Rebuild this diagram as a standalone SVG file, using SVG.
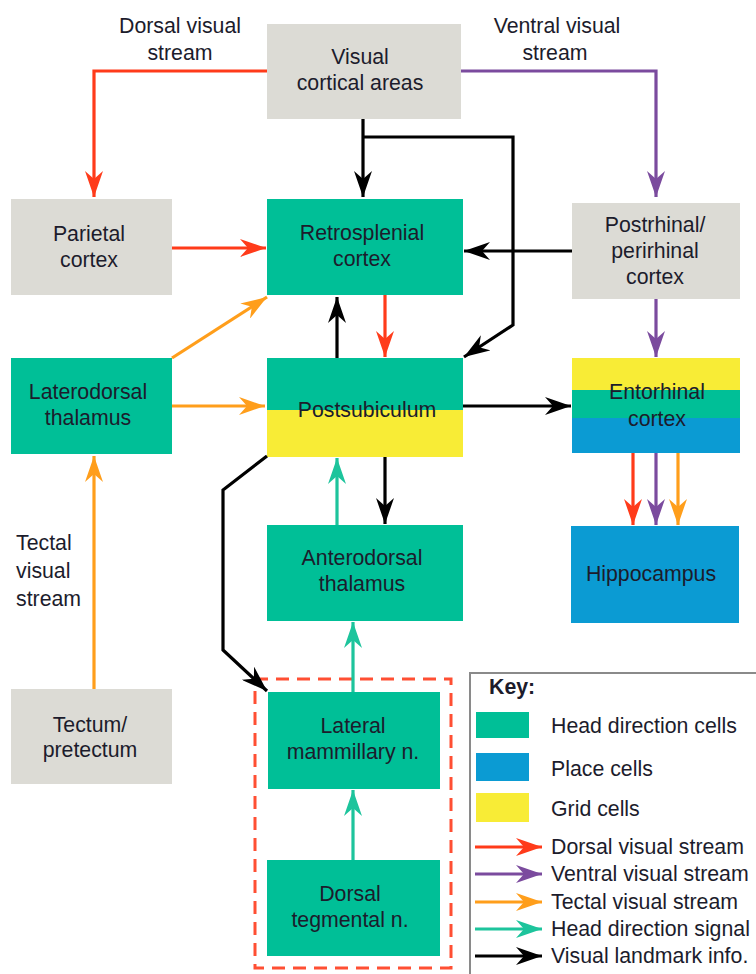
<svg xmlns="http://www.w3.org/2000/svg" width="756" height="974" viewBox="0 0 756 974">
<style>
text{font-family:"Liberation Sans",Arial,Helvetica,sans-serif;font-size:21.3px;fill:#1c1c2c;text-anchor:middle}
.k{text-anchor:start}
.gray{fill:#dcdbd5}
.green{fill:#00bf97}
.blue{fill:#0b9bd3}
.yellow{fill:#f8ec36}
.c{fill:none;stroke-width:3.2}
.red{stroke:#ff3b1a}
.pur{stroke:#7b4b9e}
.ora{stroke:#ff9e1b}
.tea{stroke:#1dc49c}
.blk{stroke:#000}
</style>
<defs>
<marker id="mr" markerUnits="userSpaceOnUse" markerWidth="26" markerHeight="18" refX="26" refY="9" orient="auto" viewBox="0 0 26 18"><path d="M0,0 L26,9 L0,18 L8,9 Z" fill="#ff3b1a"/></marker>
<marker id="mp" markerUnits="userSpaceOnUse" markerWidth="26" markerHeight="18" refX="26" refY="9" orient="auto" viewBox="0 0 26 18"><path d="M0,0 L26,9 L0,18 L8,9 Z" fill="#7b4b9e"/></marker>
<marker id="mo" markerUnits="userSpaceOnUse" markerWidth="26" markerHeight="18" refX="26" refY="9" orient="auto" viewBox="0 0 26 18"><path d="M0,0 L26,9 L0,18 L8,9 Z" fill="#ff9e1b"/></marker>
<marker id="mt" markerUnits="userSpaceOnUse" markerWidth="26" markerHeight="18" refX="26" refY="9" orient="auto" viewBox="0 0 26 18"><path d="M0,0 L26,9 L0,18 L8,9 Z" fill="#1dc49c"/></marker>
<marker id="mb" markerUnits="userSpaceOnUse" markerWidth="26" markerHeight="18" refX="26" refY="9" orient="auto" viewBox="0 0 26 18"><path d="M0,0 L26,9 L0,18 L8,9 Z" fill="#000"/></marker>
</defs>
<rect width="756" height="974" fill="#fff"/>

<g id="labels">
<text x="180" y="33">Dorsal visual</text>
<text x="180" y="60">stream</text>
<text x="557" y="33">Ventral visual</text>
<text x="555" y="60">stream</text>
<text class="k" x="16" y="550">Tectal</text>
<text class="k" x="16" y="578">visual</text>
<text class="k" x="16" y="606">stream</text>
</g>

<g id="visual-cortical-areas"><rect class="gray" x="267" y="24" width="194" height="95"/><text x="360" y="64">Visual</text><text x="360" y="90">cortical areas</text></g>
<g id="parietal-cortex"><rect class="gray" x="11" y="199" width="161" height="96"/><text x="89" y="241">Parietal</text><text x="89" y="267">cortex</text></g>
<g id="retrosplenial-cortex"><rect class="green" x="267" y="199" width="196" height="96"/><text x="362" y="240">Retrosplenial</text><text x="362" y="266">cortex</text></g>
<g id="postrhinal-cortex"><rect class="gray" x="572" y="203" width="168" height="96"/><text x="655" y="232">Postrhinal/</text><text x="655" y="258">perirhinal</text><text x="655" y="284">cortex</text></g>
<g id="laterodorsal-thalamus"><rect class="green" x="11" y="358" width="161" height="96"/><text x="88" y="399">Laterodorsal</text><text x="88" y="425">thalamus</text></g>
<g id="postsubiculum"><rect class="green" x="267" y="358" width="196" height="52"/><rect class="yellow" x="267" y="410" width="196" height="47"/><text x="367" y="417">Postsubiculum</text></g>
<g id="entorhinal-cortex"><rect class="yellow" x="572" y="358" width="168" height="32"/><rect class="green" x="572" y="390" width="168" height="28"/><rect class="blue" x="572" y="418" width="168" height="35"/><text x="657" y="399">Entorhinal</text><text x="657" y="426">cortex</text></g>
<g id="hippocampus"><rect class="blue" x="571" y="526" width="168" height="97"/><text x="651" y="581">Hippocampus</text></g>
<g id="anterodorsal-thalamus"><rect class="green" x="267" y="525" width="196" height="96"/><text x="362" y="565">Anterodorsal</text><text x="362" y="591">thalamus</text></g>
<g id="tectum"><rect class="gray" x="11" y="689" width="161" height="95"/><text x="90" y="732">Tectum/</text><text x="90" y="757">pretectum</text></g>
<g id="lateral-mammillary"><rect class="green" x="268" y="692" width="172" height="97"/><text x="353" y="733">Lateral</text><text x="353" y="759">mammillary n.</text></g>
<g id="dorsal-tegmental"><rect class="green" x="267" y="860" width="173" height="96"/><text x="350" y="901">Dorsal</text><text x="350" y="927">tegmental n.</text></g>
<g id="hd-circuit"><rect x="255" y="679" width="196" height="289" fill="none" stroke="#ff4f33" stroke-width="3" stroke-dasharray="13 8"/></g>

<g id="connectors">
<path class="c red" d="M267,71 H94 V197" marker-end="url(#mr)"/>
<path class="c pur" d="M461,71 H656 V197" marker-end="url(#mp)"/>
<path class="c blk" stroke-width="3.5" d="M363,119 V197" marker-end="url(#mb)"/>
<path class="c blk" d="M363,137 H513 V325 L464,357" marker-end="url(#mb)"/>
<path class="c red" d="M172,248 H266" marker-end="url(#mr)"/>
<path class="c blk" d="M572,251 H464" marker-end="url(#mb)"/>
<path class="c ora" d="M172,358 L267,297" marker-end="url(#mo)"/>
<path class="c ora" d="M172,406 H265" marker-end="url(#mo)"/>
<path class="c blk" d="M337,358 V297" marker-end="url(#mb)"/>
<path class="c red" d="M385,295 V357" marker-end="url(#mr)"/>
<path class="c blk" d="M463,406 H571" marker-end="url(#mb)"/>
<path class="c pur" d="M656,299 V357" marker-end="url(#mp)"/>
<path class="c red" d="M633,453 V525" marker-end="url(#mr)"/>
<path class="c pur" d="M656,453 V525" marker-end="url(#mp)"/>
<path class="c ora" d="M678,453 V525" marker-end="url(#mo)"/>
<path class="c tea" d="M337,525 V458" marker-end="url(#mt)"/>
<path class="c blk" d="M385,457 V524" marker-end="url(#mb)"/>
<path class="c tea" d="M353,692 V622" marker-end="url(#mt)"/>
<path class="c tea" d="M353,860 V790" marker-end="url(#mt)"/>
<path class="c blk" stroke-width="2.6" d="M267,456 L223,490 V650 L267,691" marker-end="url(#mb)"/>
<path class="c ora" d="M94,689 V456" marker-end="url(#mo)"/>
</g>

<g id="key">
<path d="M760,673 H470 V980" fill="none" stroke="#8a8a8a" stroke-width="2"/>
<text class="k" x="489" y="694" style="font-weight:bold">Key:</text>
<rect class="green" x="476" y="712" width="53" height="26"/>
<rect class="blue" x="476" y="753" width="53" height="28"/>
<rect class="yellow" x="476" y="793" width="53" height="29"/>
<text class="k" x="551" y="733">Head direction cells</text>
<text class="k" x="551" y="776">Place cells</text>
<text class="k" x="551" y="816">Grid cells</text>
<path class="c red" d="M475,847 H542" marker-end="url(#mr)"/>
<path class="c pur" d="M475,874 H542" marker-end="url(#mp)"/>
<path class="c ora" d="M475,902 H542" marker-end="url(#mo)"/>
<path class="c tea" d="M475,929 H542" marker-end="url(#mt)"/>
<path class="c blk" d="M475,956 H542" marker-end="url(#mb)"/>
<text class="k" x="551" y="854">Dorsal visual stream</text>
<text class="k" x="551" y="881">Ventral visual stream</text>
<text class="k" x="551" y="909">Tectal visual stream</text>
<text class="k" x="551" y="936">Head direction signal</text>
<text class="k" x="551" y="963">Visual landmark info.</text>
</g>
</svg>
